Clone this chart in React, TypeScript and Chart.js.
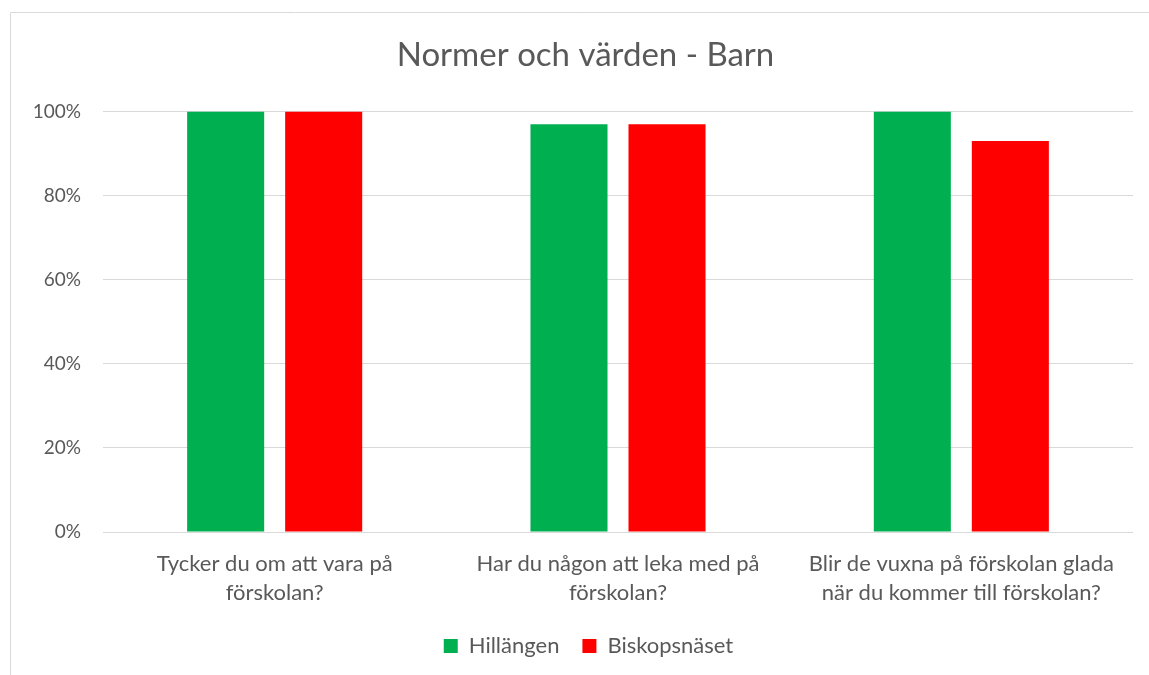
import React, { useEffect, useRef } from "react";
import { Chart, registerables } from "chart.js";

Chart.register(...registerables);

const categories: string[][] = [
  ["Tycker du om att vara på", "förskolan?"],
  ["Har du någon att leka med på", "förskolan?"],
  ["Blir de vuxna på förskolan glada", "när du kommer till förskolan?"],
];
const hillangen: number[] = [100, 97, 100];
const biskopsnaset: number[] = [100, 97, 93];
const seriesNames: string[] = ["Hillängen", "Biskopsnäset"];
const yTicks: number[] = [0, 20, 40, 60, 80, 100];

const FONT = "Lato, 'Open Sans', sans-serif";
const TEXT = "#595959";

const borderPlugin = {
  id: "outerBorder",
  afterLayout(chart: any) {
    // Excel centres title/legend on the full (wider, cropped) chart space
    const shift = 14;
    if (chart.titleBlock) {
      chart.titleBlock.left += shift;
      chart.titleBlock.right += shift;
    }
    if (chart.legend) {
      chart.legend.left += shift + 3;
      chart.legend.right += shift + 3;
    }
  },
  beforeDraw(chart: any) {
    const ctx = chart.ctx;
    ctx.save();
    ctx.strokeStyle = "#d9d9d9";
    ctx.lineWidth = 1;
    ctx.beginPath();
    ctx.moveTo(10.5, chart.height + 5);
    ctx.lineTo(10.5, 12.5);
    ctx.lineTo(chart.width + 5, 12.5);
    ctx.stroke();
    ctx.restore();
  },
};

export default function App() {
  const ref = useRef<HTMLCanvasElement | null>(null);
  useEffect(() => {
    document.body.style.margin = "0";
    const canvas = ref.current!;
    const chart = new Chart(canvas, {
      type: "bar",
      data: {
        labels: categories,
        datasets: [
          {
            label: seriesNames[0],
            data: hillangen,
            backgroundColor: "#00B050",
            categoryPercentage: 0.571,
            barPercentage: 0.786,
          },
          {
            label: seriesNames[1],
            data: biskopsnaset,
            backgroundColor: "#FF0000",
            categoryPercentage: 0.571,
            barPercentage: 0.786,
          },
        ],
      },
      options: {
        animation: false,
        responsive: false,
        maintainAspectRatio: false,
        layout: { padding: { left: 10, right: 16, top: 0, bottom: 8 } },
        plugins: {
          title: {
            display: true,
            text: "Normer och värden - Barn",
            color: TEXT,
            font: { family: FONT, size: 33, weight: "normal" },
            padding: { top: 36, bottom: 36 },
          },
          legend: {
            position: "bottom",
            labels: {
              color: TEXT,
              font: { family: FONT, size: 22 },
              boxWidth: 14,
              boxHeight: 14,
              padding: 23,
            },
          },
          tooltip: { enabled: false },
        },
        scales: {
          x: {
            grid: { display: false, drawTicks: false },
            border: { display: false },
            ticks: {
              color: TEXT,
              font: { family: FONT, size: 22, lineHeight: 1.33 },
              maxRotation: 0,
              padding: 17,
            },
            afterFit(scale: any) {
              scale.height = 80;
            },
          },
          y: {
            min: 0,
            max: 100,
            afterBuildTicks(scale: any) {
              scale.ticks = yTicks.map((v) => ({ value: v }));
            },
            grid: { color: "#d9d9d9", drawTicks: false },
            border: { display: false },
            ticks: {
              color: TEXT,
              font: { family: FONT, size: 19 },
              padding: 22,
              callback: (v: any) => v + "%",
            },
            afterFit(scale: any) {
              scale.width = 93;
            },
          },
        },
      },
      plugins: [borderPlugin],
    });
    return () => chart.destroy();
  }, []);
  return <canvas ref={ref} width={1149} height={675} style={{ display: "block" }} />;
}
